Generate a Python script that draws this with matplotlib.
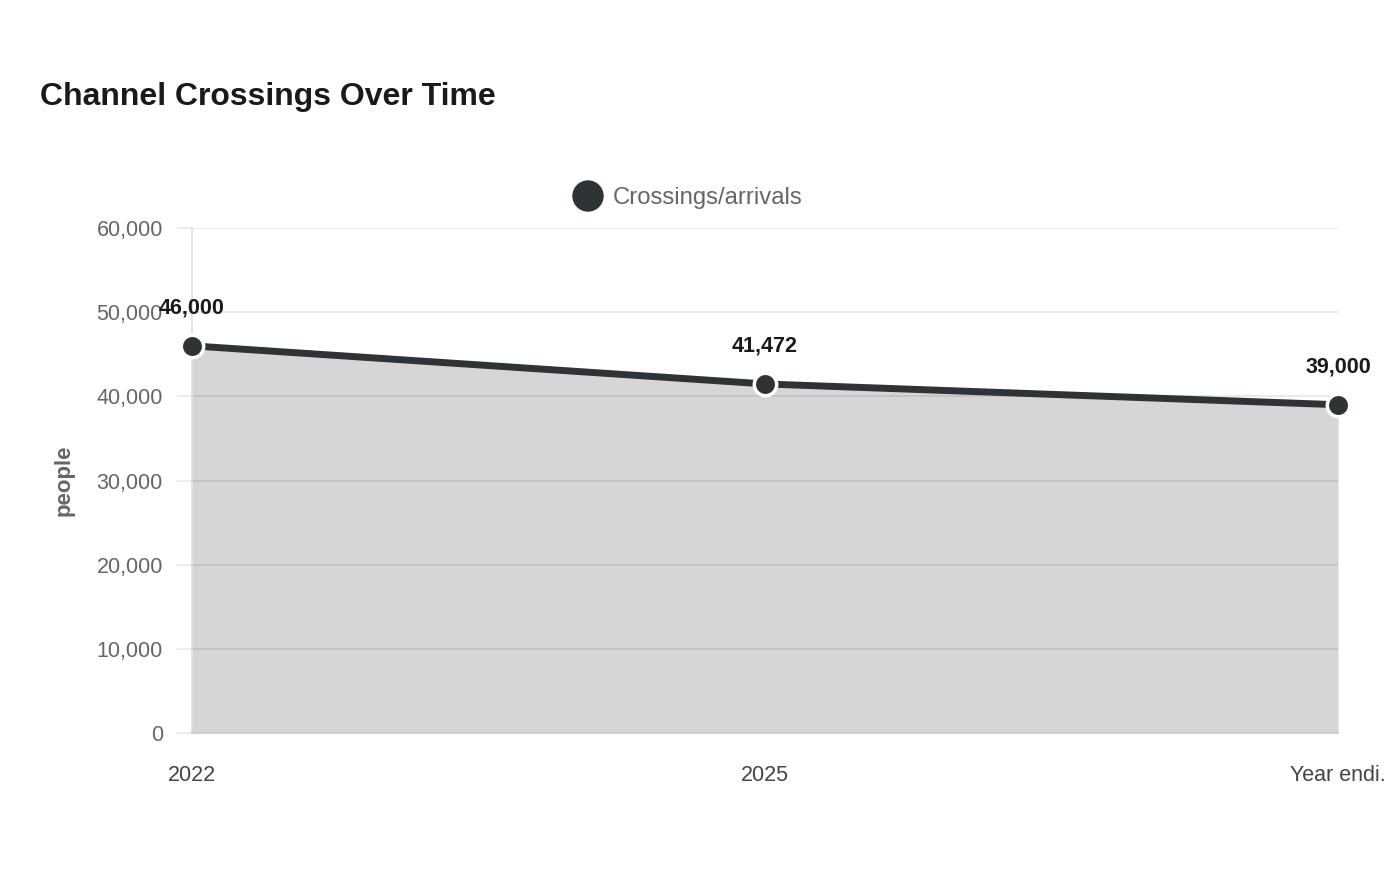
import matplotlib
matplotlib.use("Agg")
import matplotlib.pyplot as plt
from matplotlib.ticker import FuncFormatter

plt.rcParams['font.family'] = ['Liberation Sans', 'DejaVu Sans']

# data
periods = ["2022", "2025", "Year endi."]
crossings = [46000, 41472, 39000]
value_labels = ["46,000", "41,472", "39,000"]
y_ticks = [0, 10000, 20000, 30000, 40000, 50000, 60000]

line_color = "#2e3436"
fill_color = "#d6d6d6"

fig = plt.figure(figsize=(14, 8.8), dpi=100)
ax = fig.add_axes([192 / 1400, 1 - 733 / 880, (1338 - 192) / 1400, (733 - 228) / 880])

x = list(range(len(periods)))
ax.fill_between(x, crossings, 0, color=fill_color, lw=0, zorder=1)

# grid lines drawn over the fill (semi-transparent black)
for t in y_ticks[1:]:
    ax.axhline(t, color=(0, 0, 0, 0.09), lw=1.3, zorder=2)

ax.plot(x, crossings, color=line_color, lw=5, solid_capstyle="round", zorder=3, clip_on=False)
ax.scatter(x, crossings, s=260, color=line_color, edgecolor="white", linewidth=2.5,
           zorder=4, clip_on=False)

for xi, yi, lab in zip(x, crossings, value_labels):
    ax.annotate(lab, (xi, yi), xytext=(0, 27), textcoords="offset points",
                ha="center", va="center", fontsize=15.5, fontweight="bold",
                color="#1a1a1a", zorder=5)

ax.set_xlim(0, len(periods) - 1)
ax.set_ylim(0, 60000)
ax.set_yticks(y_ticks)
ax.yaxis.set_major_formatter(FuncFormatter(lambda v, p: f"{int(v):,}"))
ax.set_xticks(x)
ax.set_xticklabels(periods)

ax.tick_params(axis="y", length=11, width=1.3, color="#ebebeb", pad=10,
               labelsize=15.5, labelcolor="#666666")
ax.tick_params(axis="x", length=0, pad=23, labelsize=15.5, labelcolor="#444444")

for side in ["top", "right"]:
    ax.spines[side].set_visible(False)
ax.spines["left"].set_color("#e0e0e0")
ax.spines["left"].set_linewidth(1.3)
ax.spines["bottom"].set_color("#cfcfcf")
ax.spines["bottom"].set_linewidth(1.3)
ax.spines["left"].set_zorder(2)

ax.set_ylabel("people", fontsize=16, fontweight="bold", color="#666666", labelpad=16)

fig.text(40 / 1400, 1 - 97 / 880, "Channel Crossings Over Time", fontsize=23,
         fontweight="bold", color="#1a1a1a", ha="left", va="center")

# legend
fig.patches.append(matplotlib.patches.Ellipse((588 / 1400, 1 - 196 / 880), 30 / 1400, 30 / 880,
                                               transform=fig.transFigure, color=line_color))
fig.text(613 / 1400, 1 - 198 / 880, "Crossings/arrivals", fontsize=17.2,
         color="#666666", ha="left", va="center")

fig.savefig("out.png", dpi=100, facecolor="white")
